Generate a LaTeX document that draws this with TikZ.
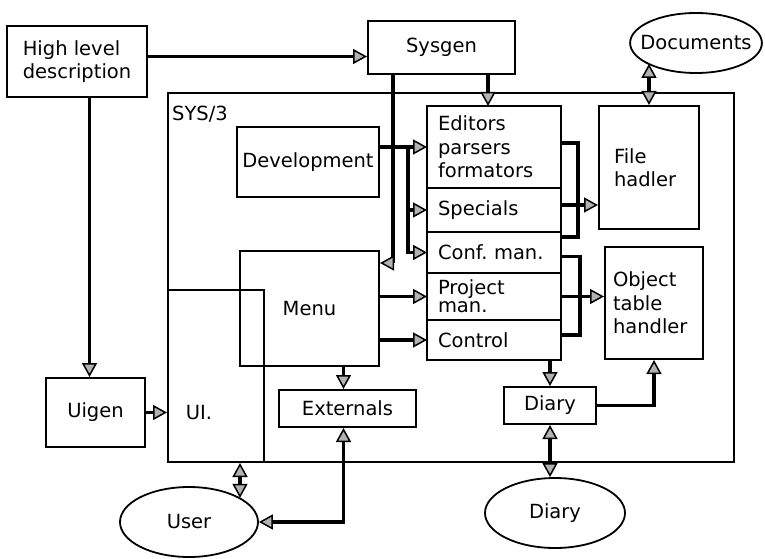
\documentclass[tikz,border=0pt]{standalone}
\usepackage{fontspec}
\setmainfont{DejaVu Sans}
\usetikzlibrary{arrows.meta, positioning, shapes.geometric}

\begin{document}
\begin{tikzpicture}[
  x=1pt, y=-1pt,
  font=\fontsize{19.5}{23.5}\selectfont,
  block/.style={rectangle, draw, line width=2pt, inner sep=0pt, anchor=north west, align=center},
  part/.style={block, outer sep=0pt, minimum width=134pt, text width=112pt, inner xsep=11pt, align=left},
  oval/.style={ellipse, draw, line width=1.8pt, inner sep=0pt},
  flow/.style={line width=3.5pt},
  >={Triangle[length=14pt, width=15pt, fill=gray!60, line width=1.5pt]}
]
  \useasboundingbox (0,0) rectangle (765,559);

  % outside the system
  \node[block, align=left, minimum width=140pt, minimum height=71pt] (hld) at (6,25) {High level\\description};
  \node[block, minimum width=147pt, minimum height=53pt] (sysgen) at (367,20) {Sysgen};
  \node[oval, inner xsep=-9pt, minimum height=60pt] (docs) at (696,43) {Documents};
  \node[block, minimum width=99pt, minimum height=69pt] (uigen) at (45,377) {Uigen};
  \node[oval, minimum width=138pt, minimum height=70pt] (user) at (189,522) {User};
  \node[oval, minimum width=140pt, minimum height=70pt] (diaryell) at (555,513) {Diary};

  % SYS/3 frame
  \node[block, minimum width=566pt, minimum height=369pt] (sys) at (167,92) {};
  \node[anchor=north west, inner sep=0pt] (syslbl) at (172,106) {SYS/3};
  \node[block, minimum width=96pt, minimum height=172pt] (ui) at (167,289) {};
  \node (uilbl) at (199,413) {UI.};
  \node[block, minimum width=142pt, minimum height=70pt] (dev) at (236,126) {Development};
  \node[block, minimum width=139pt, minimum height=115pt] (menu) at (239,250) {Menu};
  \node[block, minimum width=137pt, minimum height=37pt] (ext) at (278,389) {Externals};

  % tool stack
  \node[part, minimum height=82pt] (edit) at (427,106) {Editors\\parsers\\formators};
  \node[part, minimum height=44pt, below=0pt of edit] (spec) {Specials};
  \node[part, minimum height=41pt, below=0pt of spec] (conf) {Conf.\ man.};
  \node[part, minimum height=47pt, below=0pt of conf, font=\fontsize{19.5}{18}\selectfont] (proj) {Project\\man.};
  \node[part, minimum height=40pt, below=0pt of proj] (ctrl) {Control};

  \node[block, minimum width=100pt, minimum height=123pt, text width=70pt, inner xsep=15pt, align=left] (file) at (598,105) {File\\hadler};
  \node[block, minimum width=98pt, minimum height=112pt, text width=82pt, inner xsep=8pt, align=left] (objt) at (604,246) {Object\\table\\handler};
  \node[block, minimum width=92pt, minimum height=37pt] (diary) at (503,386) {Diary};

  % generators
  \draw[flow, ->] ([yshift=5pt]hld.east) -- ([yshift=5pt]hld.east -| sysgen.west);
  \draw[flow, ->] ([xshift=-6pt]uigen.north |- hld.south) -- ([xshift=-6pt]uigen.north);
  \draw[flow, ->] (uigen.east) -- (uigen.east -| ui.west);
  \draw[flow, ->] ([xshift=-6pt]edit.north |- sysgen.south) -- ([xshift=-6pt]edit.north);
  \draw[flow, ->] ([xshift=26pt]sysgen.south west) |- ([yshift=-13pt]menu.north east);

  % development and menu into the stack
  \draw[flow, ->] (dev.east |- edit.west) -- (edit.west);
  \coordinate (bus) at ([xshift=28pt]dev.east |- edit.west);
  \draw[flow, ->] (bus) |- (spec.west);
  \draw[flow, ->] (bus) |- (conf.west);
  \draw[flow, ->] (menu.east |- proj.west) -- (proj.west);
  \draw[flow, ->] (menu.east |- ctrl.west) -- (ctrl.west);

  % stack to handlers
  \draw[flow] ([yshift=4pt]edit.east) -- ++(17,0) |- ([yshift=-5pt]conf.north east);
  \draw[flow, ->] ([yshift=5pt]spec.east) -- ([yshift=5pt]spec.east -| file.west);
  \draw[flow] ([yshift=-4pt]conf.east) -- ++(19,0) |- ([yshift=5pt]ctrl.east);
  \draw[flow, ->] (proj.east) -- (proj.east -| objt.west);
  \draw[flow, <->] (file.north) -- (file.north |- docs.-157);

  % diary
  \draw[flow, ->] (diary.north |- ctrl.south) -- (diary.north);
  \draw[flow, ->] (diary.east) -| (objt.south);
  \draw[flow, <->] (diary.south) -- (diary.south |- diaryell.north);

  % user side
  \draw[flow, ->] ([xshift=-4pt]ext.north |- menu.south) -- ([xshift=-4pt]ext.north);
  \draw[flow, <->] ([xshift=-4pt]ext.south) |- (user.east);
  \draw[flow, <->] ([xshift=24pt]ui.south) -- ([xshift=24pt]ui.south |- user.25);
\end{tikzpicture}
\end{document}
